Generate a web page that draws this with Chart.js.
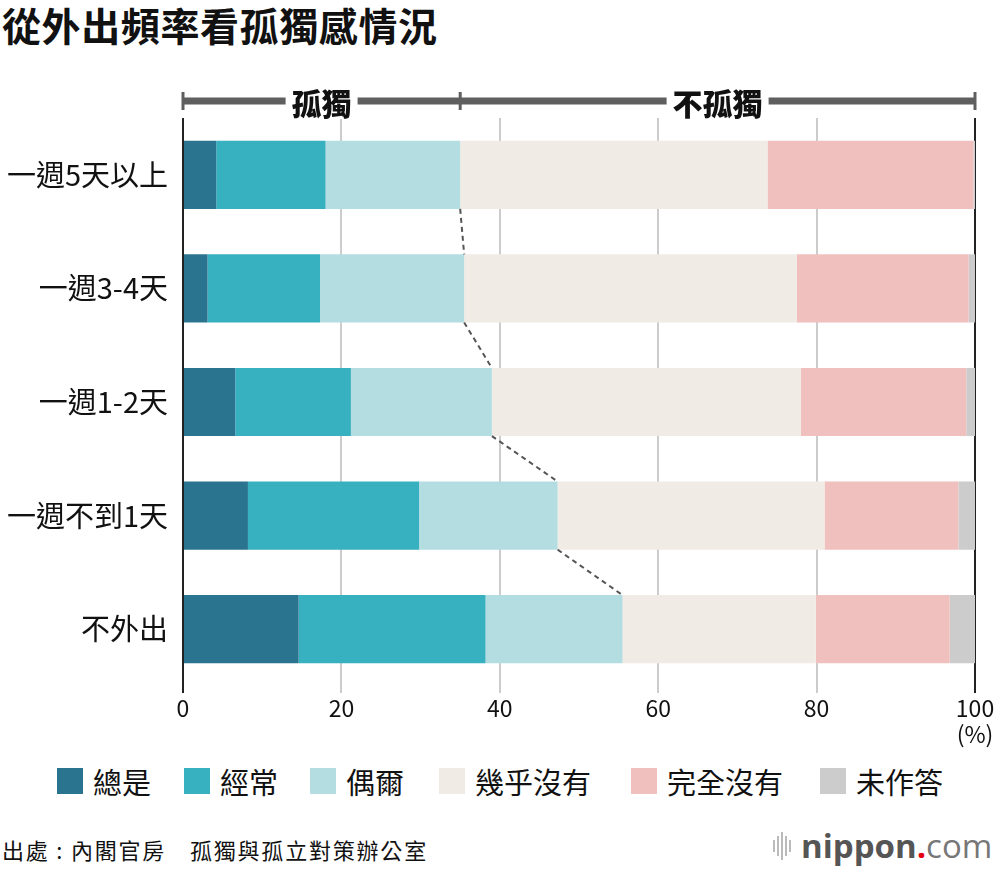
<!DOCTYPE html>
<html>
<head>
<meta charset="utf-8">
<script src="https://cdn.jsdelivr.net/npm/chart.js@4.4.0/dist/chart.umd.min.js"></script>
<style>
  body { margin: 0; background: #fff; font-family: "Noto Sans CJK TC", "Noto Sans", sans-serif; color: #111; }
  #wrap { position: relative; width: 1000px; height: 872px; overflow: hidden; }
  #title { position: absolute; left: 2px; top: -4px; font-size: 39px; font-weight: 700; letter-spacing: 0.6px; }
  #chartBox { position: absolute; left: 0; top: 0; width: 1000px; height: 760px; }
  #legend { position: absolute; left: 0; top: 760px; width: 1000px; height: 40px; }
  .item { position: absolute; top: 0; display: flex; align-items: center; font-size: 29px; }
  .sw { width: 26px; height: 26px; margin-right: 10px; }
  #source { position: absolute; left: 2px; top: 833px; font-size: 22px; letter-spacing: 1.8px; }
  #logo { position: absolute; left: 773px; top: 823px; display: flex; align-items: center; font-family: "Open Sans", sans-serif; font-size: 33px; color: #555; }
  #logo .bars { display: flex; align-items: center; gap: 2px; margin-right: 10px; }
  #logo .bars span { width: 2px; background: #bbb; }
  #logo b { font-weight: 700; }
  #logo .dot { color: #e60012; font-weight: 700; }
  #logo .com { color: #777; font-weight: 400; }
</style>
</head>
<body>
<div id="wrap">
  <div id="title">從外出頻率看孤獨感情況</div>
  <div id="chartBox"><canvas id="chart" width="1000" height="760"></canvas></div>
  <div id="legend"></div>
  <div id="source">出處 : 內閣官房　孤獨與孤立對策辦公室</div>
  <div id="logo">
    <div class="bars"><span style="height:12px"></span><span style="height:20px"></span><span style="height:28px"></span><span style="height:20px"></span><span style="height:12px"></span></div>
    <b>nippon</b><span class="dot">.</span><span class="com">com</span>
  </div>
</div>
<script>
const categories = ["一週5天以上", "一週3-4天", "一週1-2天", "一週不到1天", "不外出"];
const seriesNames = ["總是", "經常", "偶爾", "幾乎沒有", "完全沒有", "未作答"];
const always = [4.2, 3.1, 6.6, 8.2, 14.6];
const often = [13.8, 14.2, 14.6, 21.6, 23.6];
const sometimes = [17.0, 18.2, 17.8, 17.5, 17.3];
const rarely = [38.8, 42.0, 39.0, 33.7, 24.4];
const never = [26.0, 21.7, 20.9, 16.9, 16.9];
const noAnswer = [0.2, 0.8, 1.1, 2.1, 3.2];
const xTicks = [0, 20, 40, 60, 80, 100];
const groupLabels = ["孤獨", "不孤獨"];

const colors = ["#2a748f", "#37b0c0", "#b4dde1", "#f0ebe4", "#f0c0bf", "#cccccc"];
const seriesData = [always, often, sometimes, rarely, never, noAnswer];
const legendLeft = [57, 184, 310, 439, 631, 820];

// legend
const legend = document.getElementById("legend");
seriesNames.forEach((name, i) => {
  const div = document.createElement("div");
  div.className = "item";
  div.style.left = legendLeft[i] + "px";
  div.innerHTML = `<span class="sw" style="background:${colors[i]}"></span><span>${name}</span>`;
  legend.appendChild(div);
});

// cumulative share of the "lonely" answers (總是+經常+偶爾)
const lonelyEnd = categories.map((c, i) => always[i] + often[i] + sometimes[i]);

const overlay = {
  id: "overlay",
  afterDatasetsDraw(chart) {
    const { ctx, chartArea, scales } = chart;
    const x = scales.x, y = scales.y;
    const meta = chart.getDatasetMeta(2);
    ctx.save();

    // dashed connectors
    ctx.strokeStyle = "#555";
    ctx.lineWidth = 2;
    ctx.setLineDash([5, 4]);
    for (let i = 0; i < categories.length - 1; i++) {
      const h1 = meta.data[i].height / 2;
      const h2 = meta.data[i + 1].height / 2;
      ctx.beginPath();
      ctx.moveTo(x.getPixelForValue(lonelyEnd[i]), y.getPixelForValue(i) + h1);
      ctx.lineTo(x.getPixelForValue(lonelyEnd[i + 1]), y.getPixelForValue(i + 1) - h2);
      ctx.stroke();
    }
    ctx.setLineDash([]);

    // bracket on top
    const by = chartArea.top - 17;
    const x0 = x.getPixelForValue(0);
    const xm = x.getPixelForValue(lonelyEnd[0]);
    const x1 = x.getPixelForValue(100);
    ctx.strokeStyle = "#5f5f5f";
    ctx.lineWidth = 7;
    ctx.beginPath();
    ctx.moveTo(x0, by);
    ctx.lineTo(x1, by);
    ctx.stroke();
    ctx.lineWidth = 3;
    [x0, xm, x1].forEach((px) => {
      ctx.beginPath();
      ctx.moveTo(px, by - 9);
      ctx.lineTo(px, by + 9);
      ctx.stroke();
    });
    ctx.font = "900 30px 'Noto Sans CJK TC'";
    ctx.textAlign = "center";
    ctx.textBaseline = "middle";
    [[x0, xm], [xm, x1]].forEach(([a, b], i) => {
      const cx = (a + b) / 2;
      const w = ctx.measureText(groupLabels[i]).width + 12;
      ctx.fillStyle = "#fff";
      ctx.fillRect(cx - w / 2, by - 16, w, 34);
      ctx.fillStyle = "#111";
      ctx.fillText(groupLabels[i], cx, by + 3);
    });

    // unit label
    ctx.font = "23px 'Noto Sans CJK TC'";
    ctx.fillStyle = "#111";
    ctx.fillText("(%)", x1, chartArea.bottom + 48);
    ctx.restore();
  },
};

new Chart(document.getElementById("chart"), {
  type: "bar",
  data: {
    labels: categories,
    datasets: seriesNames.map((name, i) => ({
      label: name,
      data: seriesData[i],
      backgroundColor: colors[i],
      borderWidth: 0,
      barPercentage: 0.6,
      categoryPercentage: 1,
    })),
  },
  options: {
    indexAxis: "y",
    responsive: false,
    animation: false,
    devicePixelRatio: 1,
    layout: { padding: { top: 118, right: 25, bottom: 14, left: 0 } },
    plugins: { legend: { display: false }, tooltip: { enabled: false } },
    scales: {
      x: {
        stacked: true,
        min: 0,
        max: 100,
        afterBuildTicks: (s) => { s.ticks = xTicks.map((v) => ({ value: v })); },
        afterFit: (s) => { s.height = 60; },
        ticks: { color: "#111", font: { size: 23, family: "'Noto Sans CJK TC'" }, padding: 1, maxRotation: 0 },
        grid: {
          color: (c) => (c.tick && (c.tick.value === 0 || c.tick.value === 100) ? "#222" : "#cccccc"),
          lineWidth: 2,
          tickLength: 7,
        },
        border: { display: false },
      },
      y: {
        stacked: true,
        afterFit: (s) => { s.width = 183; },
        ticks: { color: "#111", font: { size: 29, family: "'Noto Sans CJK TC'" }, padding: 7 },
        grid: { display: false },
        border: { display: false },
      },
    },
  },
  plugins: [overlay],
});
</script>
</body>
</html>
